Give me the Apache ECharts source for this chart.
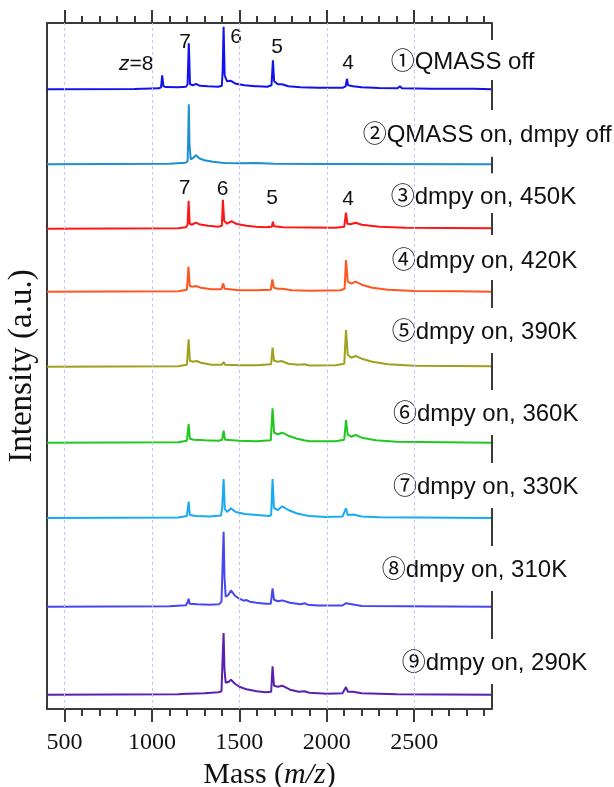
<!DOCTYPE html>
<html>
<head>
<meta charset="utf-8">
<script src="https://cdn.jsdelivr.net/npm/echarts@6/dist/echarts.min.js"></script>
<style>
html,body{margin:0;padding:0;background:#fff;}
#chart{width:614px;height:787px;}
</style>
</head>
<body>
<div id="chart"></div>
<script>
// ---- data ----
const traceNames = ['①QMASS off','②QMASS on, dmpy off','③dmpy on, 450K','④dmpy on, 420K','⑤dmpy on, 390K','⑥dmpy on, 360K','⑦dmpy on, 330K','⑧dmpy on, 310K','⑨dmpy on, 290K'];
const traceColors = ['#1212ee','#1e8fd2','#ff1515','#ff5520','#a0a01c','#20c820','#18aaf2','#4646f2','#5a20b0'];
const offsets = [619.7, 544.7, 480.3, 417.3, 342.3, 266.3, 191, 102.3, 14.3];
const majorTicks = [500, 1000, 1500, 2000, 2500];
const minorTicks = [600,700,800,900,1100,1200,1300,1400,1600,1700,1800,1900,2100,2200,2300,2400,2600,2700,2800,2900];
const chargeLabelsTop = ['z=8','7','6','5','4'];
const chargeLabelsMid = ['7','6','5','4'];

// [mass, intensity] pairs
const s1 = [[400,0],[900,0.3],[940,0.5],[946,2.5],[952,0.5],[1040,1],[1052,2],[1059,14],[1066,3],[1080,2.2],[1150,2],[1195,2.5],[1204,5],[1211,46],[1218,5],[1235,4],[1252,5.5],[1275,3.5],[1320,3],[1380,2.5],[1400,3.5],[1405,20],[1410,62.6],[1416,14],[1430,8],[1452,8.5],[1480,5.5],[1530,4],[1590,3],[1597,5],[1604,3],[1660,2.5],[1684,4],[1692,29],[1699,8],[1720,5],[1745,5],[1780,3],[1850,2],[1950,1.5],[2090,1.5],[2108,3],[2115,10.5],[2122,4],[2150,3],[2200,2],[2300,1.2],[2405,1],[2418,3],[2430,1],[2600,0.5],[2815,0.5],[2826,2],[2840,0.5],[2945,0]];
const s2 = [[400,0],[1100,0.5],[1190,1.5],[1204,3],[1208,30],[1211,60],[1215,20],[1222,5],[1240,7],[1252,9],[1270,6],[1300,4],[1350,2.5],[1400,1.5],[1410,2.5],[1420,1.2],[1500,1],[1597,1.2],[1700,0.5],[2000,0.3],[2945,0]];
const s3 = [[400,0],[1150,0.5],[1195,1.5],[1204,4],[1210,28],[1216,5],[1230,4],[1250,6],[1270,4.5],[1320,3],[1380,2],[1400,3],[1406,29],[1413,8],[1430,5],[1455,7.5],[1480,5],[1540,3],[1595,2],[1600,3.5],[1606,2],[1650,1.5],[1686,2],[1692,7],[1698,2.5],[1750,1.5],[2050,1],[2100,2],[2110,16],[2118,5],[2135,4.5],[2165,6],[2200,4],[2300,2],[2450,1],[2945,0.5]];
const s4 = [[400,0],[1150,0.5],[1200,2],[1209,25],[1216,6],[1230,5],[1250,5.7],[1280,4],[1340,2.5],[1398,2.5],[1408,8.3],[1416,3],[1500,1.5],[1600,1.5],[1680,2],[1689,12.3],[1697,4],[1720,3],[1745,3],[1800,1.5],[1900,1],[2080,1.5],[2102,3],[2110,31.7],[2120,10],[2140,8],[2165,10],[2200,7],[2260,4],[2350,2],[2500,0.8],[2750,0.5],[2945,0]];
const s5 = [[400,0],[1150,0.5],[1200,2],[1210,27.3],[1217,6],[1235,5],[1255,5.7],[1280,4],[1340,2],[1400,2],[1410,4.7],[1418,2],[1500,1.5],[1600,1.5],[1682,2.5],[1690,19],[1698,6],[1720,5],[1740,5.7],[1780,3],[1840,2],[1873,2.5],[1900,1.2],[2050,1.5],[2100,3],[2110,36.7],[2120,12],[2140,9],[2165,10.7],[2200,8],[2260,5],[2350,2.5],[2500,1],[2945,0.5]];
const s6 = [[400,0],[1150,0.5],[1200,2],[1210,18.7],[1217,4],[1240,3],[1300,2.5],[1380,2],[1402,3],[1410,12],[1418,3],[1500,2],[1600,1.5],[1680,2.5],[1690,34.3],[1699,10],[1720,8.5],[1745,10],[1780,7],[1830,4],[1870,2.5],[1900,1.5],[2050,1.5],[2100,3],[2110,22.7],[2120,8],[2140,6],[2165,7.7],[2200,5],[2280,2.5],[2400,1],[2945,0]];
const s7 = [[400,0],[1150,0.5],[1200,2],[1210,16.3],[1217,3],[1250,2],[1330,1.5],[1395,2.5],[1402,10],[1410,39],[1417,9],[1430,6],[1452,9.7],[1480,6],[1530,4],[1600,3],[1670,2],[1682,3],[1690,39],[1698,10],[1720,8],[1745,11.7],[1780,8],[1830,4.5],[1870,3],[1900,2],[2000,1],[2090,1.5],[2110,9.7],[2120,3],[2150,3.5],[2200,1.5],[2300,0.8],[2945,0]];
const s8 = [[400,0],[1100,0.5],[1195,1.5],[1205,5],[1210,8],[1216,3],[1260,2.5],[1330,2],[1385,2.5],[1398,5],[1404,40],[1410,75],[1415,30],[1422,10],[1438,12],[1452,16.3],[1475,11],[1500,8],[1525,6],[1539,6.7],[1560,5],[1600,4],[1650,3],[1680,3],[1690,18.3],[1698,7],[1720,5.5],[1745,6.3],[1790,4],[1850,2.5],[1873,3.5],[1890,2],[1950,1.2],[2090,1.2],[2110,3.5],[2120,1.5],[2200,0.8],[2945,0]];
const s9 = [[400,0],[1150,0.5],[1200,1],[1205,2],[1212,1],[1300,1.5],[1380,2.5],[1398,3.5],[1404,35],[1410,61.7],[1415,25],[1422,12],[1440,13],[1452,15],[1475,11],[1500,8],[1540,5.5],[1600,3.5],[1650,2.5],[1682,3],[1690,28.3],[1698,9],[1720,8],[1745,9],[1790,5],[1840,3],[1873,3.5],[1900,2],[2000,1],[2090,1.5],[2110,7.7],[2120,3],[2150,3],[2200,1.5],[2400,0.5],[2945,0]];
const spectra = [s1,s2,s3,s4,s5,s6,s7,s8,s9];

// right-edge frame stubs [low, high] in intensity units
const rightStubs = [[669,686],[599,629],[535.7,552.3],[474,496],[401,429],[319,356],[246,274],[163,201],[70,118],[0,25]];

// ---- chart ----
const X_MIN = 400, X_MAX = 2945;
const AXIS_COLOR = '#3a3a3a';
const chart = echarts.init(document.getElementById('chart'), null, {renderer:'canvas'});

const series = [];
series.push({
  type:'line', name:'grid', data:[], z:1, silent:true,
  markLine:{silent:true, symbol:'none', label:{show:false}, animation:false,
    lineStyle:{color:'#c4c4f4', width:1, type:[3,3]},
    data: majorTicks.map(v => ({xAxis:v}))}
});
spectra.forEach((s, k) => {
  series.push({
    type:'line', name:traceNames[k], z:2,
    data: s.map(p => [p[0], p[1] + offsets[k]]),
    showSymbol:false, symbol:'none', animation:false,
    lineStyle:{color:traceColors[k], width:2},
    itemStyle:{color:traceColors[k]}
  });
});
series.push({
  type:'line', name:'frame', data:[], z:3, silent:true,
  markLine:{silent:true, symbol:'none', label:{show:false}, animation:false,
    lineStyle:{color:AXIS_COLOR, width:2, type:'solid'},
    data: rightStubs.map(r => [{coord:[X_MAX, r[0]]},{coord:[X_MAX, r[1]]}])}
});

const baseX = {type:'value', min:X_MIN, max:X_MAX, splitLine:{show:false}, axisLine:{show:false}, axisLabel:{show:false}, axisTick:{show:false}};
const serif = "'Liberation Serif','DejaVu Serif',serif";
const sans = "'Liberation Sans','Noto Sans CJK JP',sans-serif";

const graphics = [];
traceNames.forEach((t, k) => {
  const pos = [[390.7,62],[362.7,135],[390.7,197],[391.7,261],[391.7,332],[393,414],[393,487],[381.7,570],[401.7,663]][k];
  graphics.push({type:'text', x:pos[0], y:pos[1], style:{text:t, font:'24px '+sans, fill:'#111', textAlign:'left', textVerticalAlign:'middle'}});
});
const topPos = [[119,64,'left'],[185,42.5,'center'],[236,37,'center'],[277,47,'center'],[348,63.5,'center']];
chargeLabelsTop.forEach((t, i) => {
  const p = topPos[i];
  const txt = t.indexOf('z=') === 0 ? '{i|z}' + t.slice(1) : t;
  graphics.push({type:'text', x:p[0], y:p[1], style:{text:txt, font:'21px '+sans, fill:'#111', textAlign:p[2], textVerticalAlign:'middle', rich:{i:{fontStyle:'italic', fontSize:21, fontFamily:sans}}}});
});
const midPos = [[184.5,188.5],[222.5,189],[272,198.5],[348,199]];
chargeLabelsMid.forEach((t, i) => {
  const p = midPos[i];
  graphics.push({type:'text', x:p[0], y:p[1], style:{text:t, font:'21px '+sans, fill:'#111', textAlign:'center', textVerticalAlign:'middle'}});
});

chart.setOption({
  animation:false,
  backgroundColor:'#fff',
  grid:{left:47, right:122, top:23, bottom:78, containLabel:false, outerBoundsMode:'none'},
  xAxis:[
    Object.assign({}, baseX, {position:'bottom',
      axisLine:{show:true, lineStyle:{color:AXIS_COLOR, width:2}},
      axisTick:{show:true, inside:false, length:13, customValues:majorTicks, lineStyle:{color:AXIS_COLOR, width:2}},
      axisLabel:{show:true, customValues:majorTicks, margin:22, fontFamily:serif, fontSize:24, color:'#111', formatter: v => String(v)},
      name:'{a|Mass (}{b|m/z}{a|)}', nameLocation:'middle', nameGap:46,
      nameTextStyle:{rich:{a:{fontFamily:serif, fontSize:30, color:'#111'}, b:{fontFamily:serif, fontSize:30, fontStyle:'italic', color:'#111'}}}
    }),
    Object.assign({}, baseX, {position:'bottom',
      axisTick:{show:true, inside:false, length:7, customValues:minorTicks, lineStyle:{color:AXIS_COLOR, width:2}}}),
    Object.assign({}, baseX, {position:'top',
      axisLine:{show:true, lineStyle:{color:AXIS_COLOR, width:2}},
      axisTick:{show:true, inside:false, length:13, customValues:majorTicks, lineStyle:{color:AXIS_COLOR, width:2}}}),
    Object.assign({}, baseX, {position:'top',
      axisTick:{show:true, inside:false, length:7, customValues:minorTicks, lineStyle:{color:AXIS_COLOR, width:2}}})
  ],
  yAxis:{type:'value', min:0, max:686, position:'left',
    axisLine:{show:true, lineStyle:{color:AXIS_COLOR, width:2}},
    axisTick:{show:false}, axisLabel:{show:false}, splitLine:{show:false},
    name:'Intensity (a.u.)', nameLocation:'middle', nameRotate:90, nameGap:8,
    nameTextStyle:{fontFamily:serif, fontSize:33, color:'#111'}
  },
  series: series,
  graphic: graphics
});
</script>
</body>
</html>
